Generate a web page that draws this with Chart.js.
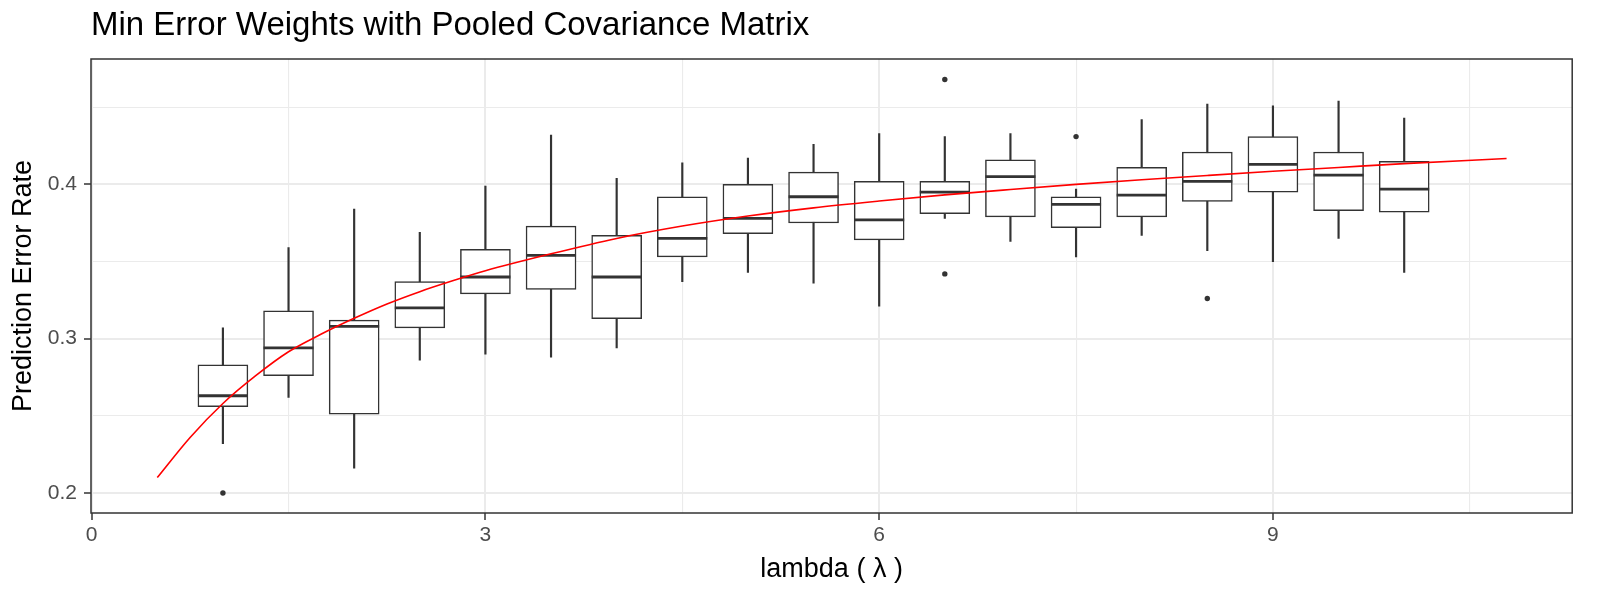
<!DOCTYPE html>
<html>
<head>
<meta charset="utf-8">
<script src="https://cdn.jsdelivr.net/npm/chart.js@4.4.1/dist/chart.umd.min.js"></script>
<style>
  body { margin: 0; background: #fff; }
</style>
</head>
<body>
<canvas id="grafico" width="1600" height="600"></canvas>
<script>
// valores
const lambdas = [1, 1.5, 2, 2.5, 3, 3.5, 4, 4.5, 5, 5.5, 6, 6.5, 7, 7.5, 8, 8.5, 9, 9.5, 10];
const bigodeSup = [0.307, 0.359, 0.384, 0.369, 0.399, 0.432, 0.404, 0.414, 0.417, 0.426, 0.433, 0.431, 0.433, 0.397, 0.442, 0.452, 0.451, 0.454, 0.443];
const q3 = [0.283, 0.318, 0.312, 0.337, 0.358, 0.373, 0.367, 0.392, 0.400, 0.408, 0.402, 0.402, 0.416, 0.392, 0.411, 0.421, 0.431, 0.421, 0.415];
const mediana = [0.263, 0.294, 0.308, 0.320, 0.340, 0.354, 0.340, 0.365, 0.378, 0.392, 0.377, 0.395, 0.405, 0.387, 0.393, 0.402, 0.413, 0.406, 0.397];
const q1 = [0.256, 0.276, 0.251, 0.307, 0.329, 0.332, 0.313, 0.353, 0.368, 0.375, 0.364, 0.381, 0.379, 0.372, 0.379, 0.389, 0.395, 0.383, 0.382];
const bigodeInf = [0.232, 0.262, 0.216, 0.286, 0.290, 0.288, 0.294, 0.337, 0.343, 0.336, 0.321, 0.378, 0.363, 0.353, 0.367, 0.357, 0.350, 0.365, 0.343];

const outlierX = [1, 6.5, 6.5, 7.5, 8.5];
const outlierY = [0.200, 0.468, 0.342, 0.431, 0.326];

// curva ajustada (vermelha)
const curvaX = [0.5, 0.75, 1, 1.25, 1.5, 1.75, 2, 2.25, 2.5, 2.75, 3, 3.5, 4, 4.5, 5, 5.5, 6, 6.5, 7, 7.5, 8, 8.5, 9, 9.5, 10, 10.78];
const curvaY = [0.210, 0.236, 0.258, 0.276, 0.2915, 0.3030, 0.3132, 0.3225, 0.3305, 0.3375, 0.344, 0.355, 0.365, 0.373, 0.3795, 0.3848, 0.3892, 0.3932, 0.3967, 0.400, 0.403, 0.4058, 0.4085, 0.411, 0.4135, 0.4168];

const xTicks = [0, 1.5, 3, 4.5, 6, 7.5, 9, 10.5];
const yTicks = [0.2, 0.25, 0.3, 0.35, 0.4, 0.45];

const corCaixa = '#333333';
const corGrade = '#EBEBEB';
const fonte = '"Liberation Sans", Arial, sans-serif';

Chart.defaults.font.family = fonte;

const ehMajorX = v => Math.abs(v % 3) < 1e-9;
const ehMajorY = v => Math.abs(v * 10 - Math.round(v * 10)) < 1e-9;

// borda do painel (estilo theme_bw)
const bordaPainel = {
    id: 'bordaPainel',
    afterDraw(chart) {
        const a = chart.chartArea;
        const c = chart.ctx;
        c.save();
        c.strokeStyle = corCaixa;
        c.lineWidth = 1.5;
        c.strokeRect(a.left, a.top, a.right - a.left, a.bottom - a.top);
        c.restore();
    }
};

const ctx = document.getElementById('grafico').getContext('2d');
const grafico = new Chart(ctx, {
    type: 'scatter',
    data: {
        datasets: [
            {
                type: 'line',
                label: 'ajuste',
                data: curvaX.map((x, i) => ({ x: x, y: curvaY[i] })),
                borderColor: '#FF0000',
                borderWidth: 1.6,
                pointRadius: 0,
                cubicInterpolationMode: 'monotone',
                fill: false
            },
            {
                type: 'scatter',
                label: 'outliers',
                data: outlierX.map((x, i) => ({ x: x, y: outlierY[i] })),
                backgroundColor: corCaixa,
                borderWidth: 0,
                pointRadius: 2.7
            },
            {
                type: 'scatter',
                label: 'mediana',
                data: lambdas.map((x, i) => ({ x: x, y: mediana[i] })),
                pointStyle: 'line',
                pointRadius: 25,
                pointBorderWidth: 2.8,
                borderColor: corCaixa
            },
            {
                type: 'bar',
                label: 'caixa',
                data: lambdas.map((x, i) => ({ x: x, y: [q1[i], q3[i]] })),
                backgroundColor: '#FFFFFF',
                borderColor: corCaixa,
                borderWidth: 1.5,
                borderSkipped: false,
                barThickness: 50,
                grouped: false
            },
            {
                type: 'bar',
                label: 'bigodes',
                data: lambdas.map((x, i) => ({ x: x, y: [bigodeInf[i], bigodeSup[i]] })),
                backgroundColor: corCaixa,
                borderWidth: 0,
                barThickness: 1.5,
                grouped: false
            }
        ]
    },
    options: {
        responsive: false,
        animation: false,
        devicePixelRatio: 1,
        layout: { padding: { left: 0, right: 15, top: 0, bottom: 0 } },
        plugins: {
            legend: { display: false },
            tooltip: { enabled: false },
            title: {
                display: true,
                text: 'Min Error Weights with Pooled Covariance Matrix',
                align: 'start',
                fullSize: false,
                color: '#000000',
                font: { size: 33, weight: 'normal', family: fonte },
                padding: { top: 6, bottom: 13.4 }
            }
        },
        scales: {
            x: {
                type: 'linear',
                min: -0.005,
                max: 11.28,
                offset: false,
                afterBuildTicks: s => { s.ticks = xTicks.map(v => ({ value: v })); },
                afterFit: s => { s.height = 87; },
                ticks: {
                    autoSkip: false,
                    maxRotation: 0,
                    padding: 2.4,
                    color: '#4D4D4D',
                    font: { size: 21 },
                    callback: v => ehMajorX(v) ? String(v) : ''
                },
                grid: {
                    offset: false,
                    color: corGrade,
                    lineWidth: c => ehMajorX(c.tick.value) ? 2 : 1.1,
                    tickColor: c => ehMajorX(c.tick.value) ? corCaixa : 'rgba(0,0,0,0)',
                    tickLength: 7,
                    tickWidth: 1.5
                },
                border: { display: false },
                title: {
                    display: true,
                    text: 'lambda ( λ )',
                    color: '#000000',
                    font: { size: 27 },
                    padding: { top: 0, bottom: 14 }
                }
            },
            y: {
                min: 0.187,
                max: 0.4813,
                afterBuildTicks: s => { s.ticks = yTicks.map(v => ({ value: v })); },
                afterFit: s => { s.width = 91; },
                ticks: {
                    autoSkip: false,
                    padding: 7,
                    color: '#4D4D4D',
                    font: { size: 21 },
                    callback: v => ehMajorY(v) ? v.toFixed(1) : ''
                },
                grid: {
                    color: corGrade,
                    lineWidth: c => ehMajorY(c.tick.value) ? 2 : 1.1,
                    tickColor: c => ehMajorY(c.tick.value) ? corCaixa : 'rgba(0,0,0,0)',
                    tickLength: 7,
                    tickWidth: 1.5
                },
                border: { display: false },
                title: {
                    display: true,
                    text: 'Prediction Error Rate',
                    color: '#000000',
                    font: { size: 27 },
                    padding: { top: 7.8, bottom: 0 }
                }
            }
        }
    },
    plugins: [bordaPainel]
});
</script>
</body>
</html>
